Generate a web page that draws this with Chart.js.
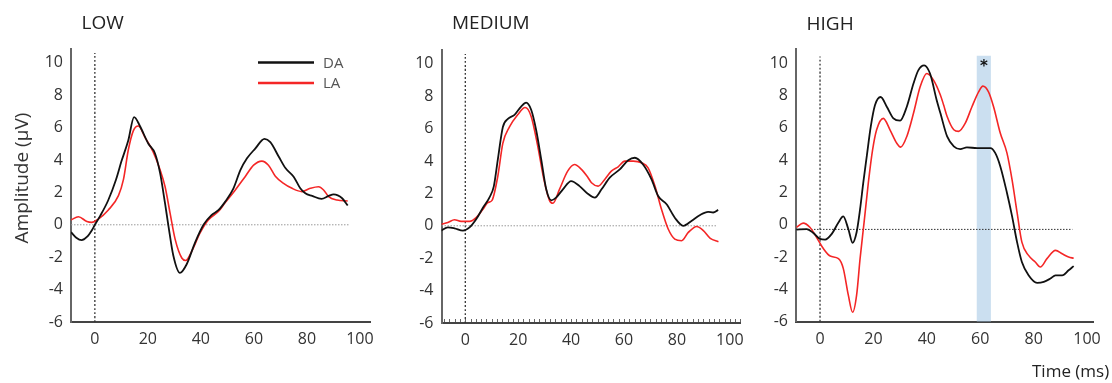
<!DOCTYPE html>
<html>
<head>
<meta charset="utf-8">
<script src="https://cdn.jsdelivr.net/npm/chart.js@4.4.1/dist/chart.umd.min.js"></script>
<style>
  body { margin: 0; background: #fff; }
  #wrap { position: relative; width: 1112px; height: 383px; overflow: hidden; }
  #wrap canvas { position: absolute; top: 0; }
</style>
</head>
<body>
<div id="wrap">
  <canvas id="lowChart" width="391" height="383" style="left:0px;width:391px;height:383px"></canvas>
  <canvas id="mediumChart" width="391" height="383" style="left:370px;width:391px;height:383px"></canvas>
  <canvas id="highChart" width="387" height="383" style="left:725px;width:387px;height:383px"></canvas>
</div>
<script>
// axis ticks
const xTicks = [0, 20, 40, 60, 80, 100];
const yTicks = [-6, -4, -2, 0, 2, 4, 6, 8, 10];

// LOW condition (time in ms, amplitude in µV)
const lowDATime = [-9, -7, -5, -3, -1, 0, 2, 5, 8, 10, 12.6, 14.8, 17, 20.2, 22.7, 24.6, 26.5, 27.7, 29.6, 32.1, 34.6, 37.8, 41, 44, 46.6, 49.2, 52.3, 54.9, 57.4, 60.5, 64, 66.2, 69.4, 71.9, 75, 77.5, 79.4, 82, 85.5, 88.2, 90.1, 93.3, 95.4];
const lowDA = [-0.45, -0.8, -0.95, -0.75, -0.3, 0, 0.55, 1.5, 2.8, 3.9, 5.2, 6.65, 6.1, 5.0, 4.4, 3.2, 1.3, 0, -1.9, -2.97, -2.45, -1.1, 0, 0.6, 0.9, 1.43, 2.25, 3.37, 4.1, 4.7, 5.3, 5.1, 4.2, 3.5, 2.97, 2.25, 1.94, 1.78, 1.6, 1.78, 1.88, 1.64, 1.19];
const lowLATime = [-9, -6.2, -3, -1.2, 1.3, 5, 8.9, 10.8, 12.6, 14.5, 16.4, 18.9, 22, 24.6, 26.5, 28.4, 30.3, 32.8, 34.3, 36.5, 39.7, 42.8, 46.6, 49.2, 53, 56.7, 59.9, 63, 65.5, 68.1, 71.2, 74.4, 78.1, 81.3, 84.4, 86.3, 88.2, 91.4, 95.4];
const lowLA = [0.3, 0.5, 0.2, 0.15, 0.35, 0.9, 1.8, 2.8, 4.6, 5.8, 6.1, 5.4, 4.5, 3.4, 2.35, 0.7, -0.9, -2.05, -2.2, -1.65, -0.5, 0.3, 0.82, 1.37, 2.15, 2.97, 3.68, 3.93, 3.68, 3.0, 2.56, 2.25, 2.05, 2.25, 2.35, 2.15, 1.74, 1.53, 1.47];

// MEDIUM condition
const medDATime = [-9.1, -6.6, -4.1, -0.9, 1.6, 4.1, 6.6, 9.1, 10.8, 12.3, 14.2, 16.1, 18.6, 21.1, 23, 24.9, 26.8, 28.7, 30.6, 32.5, 34.3, 36.9, 40, 43.2, 46.3, 49, 51.5, 54.6, 58.4, 61.6, 64.1, 67.2, 70.4, 72.9, 76.1, 79.2, 82.4, 85.5, 88.6, 91.8, 93.7, 95.6];
const medDA = [-0.3, -0.1, -0.16, -0.3, -0.1, 0.4, 1.1, 1.74, 2.45, 4.1, 6.1, 6.6, 6.85, 7.36, 7.6, 7.16, 5.9, 4.1, 2.25, 1.57, 1.74, 2.25, 2.76, 2.45, 1.98, 1.74, 2.25, 2.97, 3.48, 4.05, 4.2, 3.78, 2.86, 1.84, 1.33, 0.5, 0, 0.3, 0.65, 0.86, 0.82, 0.98];
const medLATime = [-9.1, -6.6, -4.1, -1.6, 1.6, 4.1, 6.6, 8.5, 10.1, 12.3, 14.2, 16.7, 19.8, 22.6, 24.9, 27.4, 29.7, 31.8, 33.1, 35.6, 38.7, 41.3, 43.8, 46.3, 47.7, 50.2, 52.7, 55.2, 57.8, 60.3, 63.5, 66.6, 69.1, 71.7, 74.2, 76.7, 79.2, 81.8, 84.3, 87.5, 90, 92.6, 95.7];
const medLA = [0.1, 0.2, 0.37, 0.27, 0.27, 0.5, 1.0, 1.43, 1.57, 3.07, 5.1, 6.1, 6.85, 7.3, 6.75, 4.9, 2.86, 1.57, 1.39, 2.25, 3.37, 3.78, 3.5, 3.0, 2.66, 2.45, 2.86, 3.37, 3.64, 3.99, 3.99, 3.89, 3.58, 2.45, 1.0, -0.2, -0.82, -0.92, -0.41, -0.04, -0.3, -0.78, -0.98];

// HIGH condition
const highDATime = [-8.8, -5, -2.5, 0, 1.9, 4.4, 6.9, 8.7, 10.6, 12.2, 13.7, 15, 16.2, 17.5, 19, 20.6, 22.7, 25, 27.5, 30, 32.5, 35, 36.8, 39, 41.2, 43.7, 45.1, 47.6, 50.1, 52.5, 55, 58.8, 63.8, 65.6, 67.5, 70, 71.9, 73.8, 75.6, 78.1, 81.3, 83.8, 86.3, 88.2, 90.7, 93.1, 95];
const highDA = [-0.3, -0.27, -0.51, -0.88, -0.92, -0.57, 0.14, 0.51, -0.27, -1.12, -0.47, 0.96, 2.6, 4.23, 6.07, 7.4, 7.9, 7.3, 6.58, 6.44, 7.3, 8.73, 9.55, 9.86, 9.35, 7.7, 6.89, 5.46, 4.85, 4.68, 4.78, 4.74, 4.74, 4.44, 3.62, 1.98, 0.55, -1.08, -2.31, -3.13, -3.6, -3.54, -3.33, -3.13, -3.13, -2.82, -2.56];
const highLATime = [-8.8, -6.3, -3.8, -1.3, 1.3, 3.8, 6.9, 8.7, 10.6, 12.2, 13.7, 15, 16.5, 18.1, 19.7, 21.2, 23.7, 26.2, 28.7, 30.2, 32.5, 35, 37.5, 40, 42.5, 45, 46.3, 47.6, 50.1, 51.9, 54.4, 56.9, 59.4, 61, 63.1, 65, 67.5, 70, 71.9, 73.8, 75.6, 78.1, 80.6, 82.5, 85, 88.2, 90.7, 93.1, 95];
const highLA = [-0.16, 0.1, -0.16, -0.78, -1.49, -1.94, -2.1, -2.7, -4.36, -5.42, -4.36, -2.1, 0.14, 2.6, 4.64, 5.87, 6.58, 5.87, 5.05, 4.8, 5.46, 6.89, 8.53, 9.35, 8.94, 8.05, 7.4, 6.69, 5.87, 5.77, 6.28, 7.3, 8.22, 8.57, 8.22, 7.3, 5.67, 4.44, 2.8, 0.76, -1.08, -1.9, -2.31, -2.62, -2.1, -1.59, -1.8, -2.0, -2.07];

// significant window in the HIGH condition (ms)
const sigWindow = [58.7, 64.0];

const DA_COLOR = '#111111';
const LA_COLOR = '#f42626';

Chart.defaults.font.family = "'Open Sans', sans-serif";
Chart.defaults.font.size = 16;
Chart.defaults.color = '#333';

const toPoints = (t, v) => t.map((x, i) => ({ x: x, y: v[i] }));

// titles, legend, shaded window and other annotations
const decor = {
  id: 'decor',
  beforeDatasetsDraw(chart, args, o) {
    if (!o.band) return;
    const { ctx, chartArea, scales: { x, y } } = chart;
    const l = x.getPixelForValue(o.band[0]);
    const r = x.getPixelForValue(o.band[1]);
    const t = y.getPixelForValue(o.bandTop);
    ctx.save();
    ctx.fillStyle = 'rgba(160, 196, 228, 0.55)';
    ctx.fillRect(l, t, r - l, chartArea.bottom - t);
    ctx.restore();
  },
  afterDraw(chart, args, o) {
    const { ctx, chartArea, scales: { x, y } } = chart;
    ctx.save();
    ctx.fillStyle = '#222';
    ctx.font = "19px 'Open Sans'";
    ctx.textAlign = 'left';
    ctx.textBaseline = 'alphabetic';
    ctx.fillText(o.title, chartArea.left + 10.5, o.titleY);

    if (o.yTitle) {
      ctx.save();
      ctx.translate(23, 178);
      ctx.rotate(-Math.PI / 2);
      ctx.textAlign = 'center';
      ctx.textBaseline = 'middle';
      ctx.fillStyle = '#333';
      ctx.fillText('Amplitude (µV)', 0, 0);
      ctx.restore();
    }

    if (o.legend) {
      ctx.font = "15px 'Open Sans'";
      ctx.textBaseline = 'middle';
      chart.data.datasets.slice(0, 2).forEach((ds, i) => {
        const ly = 62.5 + i * 20.5;
        ctx.strokeStyle = ds.borderColor;
        ctx.lineWidth = 2.5;
        ctx.beginPath();
        ctx.moveTo(258, ly);
        ctx.lineTo(314, ly);
        ctx.stroke();
        ctx.fillStyle = '#555';
        ctx.fillText(ds.label, 323, ly + 1);
      });
    }

    if (o.minorTicks) {
      ctx.strokeStyle = '#666';
      ctx.lineWidth = 1;
      ctx.beginPath();
      for (let v = -8; v <= x.max; v += 2) {
        const px = Math.round(x.getPixelForValue(v)) + 0.5;
        ctx.moveTo(px, chartArea.bottom - 1);
        ctx.lineTo(px, chartArea.bottom - 4);
      }
      ctx.stroke();
    }

    if (o.band) {
      ctx.fillStyle = '#111';
      ctx.font = "bold 15px 'DejaVu Sans'";
      ctx.textAlign = 'center';
      ctx.textBaseline = 'middle';
      ctx.fillText('*', x.getPixelForValue((o.band[0] + o.band[1]) / 2), y.getPixelForValue(9.85) + 2);
    }

    if (o.xTitle) {
      ctx.fillStyle = '#222';
      ctx.font = "17px 'Open Sans'";
      ctx.textAlign = 'left';
      ctx.textBaseline = 'alphabetic';
      ctx.fillText('Time (ms)', 307, 377);
    }
    ctx.restore();
  }
};

function buildPanel(id, p) {
  return new Chart(document.getElementById(id), {
    type: 'line',
    data: {
      datasets: [
        { label: 'DA', data: toPoints(p.daTime, p.da), borderColor: DA_COLOR, borderWidth: 1.8 },
        { label: 'LA', data: toPoints(p.laTime, p.la), borderColor: LA_COLOR, borderWidth: 1.6 },
        { label: 'baseline', data: [{ x: -9, y: p.base }, { x: p.baseEnd, y: p.base }],
          borderColor: p.baseColor, borderWidth: 1, borderDash: [1.5, 1.5] },
        { label: 'onset', data: [{ x: 0, y: -6 }, { x: 0, y: p.onsetTop }],
          borderColor: '#333', borderWidth: 1.3, borderDash: [2, 2] }
      ]
    },
    options: {
      responsive: false,
      animation: false,
      layout: { padding: { left: 0, top: p.top, right: p.padRight, bottom: 0 } },
      elements: {
        point: { radius: 0 },
        line: { cubicInterpolationMode: 'monotone', fill: false }
      },
      plugins: {
        legend: { display: false },
        tooltip: { enabled: false },
        decor: {
          title: p.title, titleY: p.titleY, yTitle: !!p.yTitle, legend: !!p.legend,
          minorTicks: !!p.minorTicks, band: p.band || null, bandTop: 10.45, xTitle: !!p.xTitle
        }
      },
      scales: {
        x: {
          type: 'linear', min: -9, max: p.xMax,
          grid: { display: false, drawTicks: false },
          border: { display: true, color: '#444', width: 2 },
          ticks: { padding: 8, color: '#333' },
          afterBuildTicks: s => { s.ticks = xTicks.map(v => ({ value: v })); },
          afterFit: s => { s.height = p.xHeight; }
        },
        y: {
          type: 'linear', min: -6, max: 10.85,
          grid: { display: false, drawTicks: false },
          border: { display: true, color: '#666', width: 2 },
          ticks: { padding: 8, color: '#333' },
          afterBuildTicks: s => { s.ticks = yTicks.map(v => ({ value: v })); },
          afterFit: s => { s.width = p.yWidth; }
        }
      }
    },
    plugins: [decor]
  });
}

buildPanel('lowChart', {
  title: 'LOW', titleY: 28.5, yTitle: true, legend: true,
  daTime: lowDATime, da: lowDA, laTime: lowLATime, la: lowLA,
  base: 0, baseEnd: 95.7, baseColor: '#9a9a9a', onsetTop: 10.6,
  xMax: 104, top: 49, padRight: 20.5, xHeight: 61, yWidth: 71
});

buildPanel('mediumChart', {
  title: 'MEDIUM', titleY: 28.5, minorTicks: true,
  daTime: medDATime, da: medDA, laTime: medLATime, la: medLA,
  base: 0, baseEnd: 95, baseColor: '#9a9a9a', onsetTop: 10.6,
  xMax: 104, top: 50, padRight: 20.6, xHeight: 60, yWidth: 71.5
});

buildPanel('highChart', {
  title: 'HIGH', titleY: 30, xTitle: true, band: sigWindow,
  daTime: highDATime, da: highDA, laTime: highLATime, la: highLA,
  base: -0.29, baseEnd: 94.5, baseColor: '#333', onsetTop: 10.4,
  xMax: 102.5, top: 49.3, padRight: 18.3, xHeight: 61.3, yWidth: 71
});
</script>
</body>
</html>
